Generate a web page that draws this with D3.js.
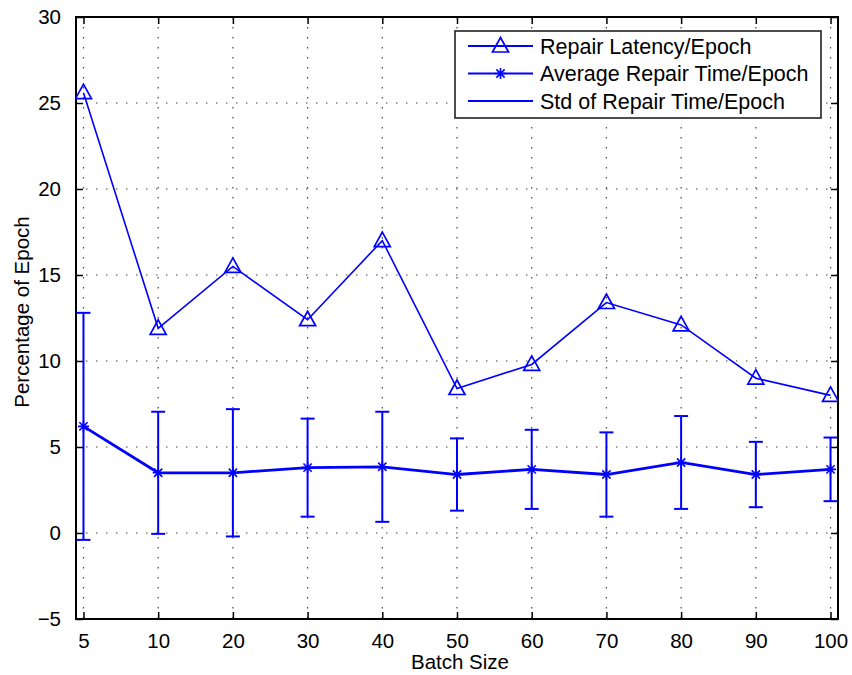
<!DOCTYPE html>
<html>

<head>
  <title>Repair latency vs batch size</title>
  <style>
    body { margin: 0; background: #fff; }
    text { font-family: "Liberation Sans", Arial, Helvetica, sans-serif; fill: #000; }
  </style>
</head>

<body>

  <svg id="main" width="852" height="675"></svg>

  <script src="https://cdn.jsdelivr.net/npm/d3@7"></script>
  <script>

    // data
    const batchSizes = ['5', '10', '20', '30', '40', '50', '60', '70', '80', '90', '100']
    const latency = [25.6, 11.9, 15.5, 12.4, 17.0, 8.4, 9.8, 13.4, 12.1, 9.0, 8.0]
    const avgRepair = [6.2, 3.5, 3.5, 3.8, 3.85, 3.4, 3.7, 3.4, 4.1, 3.4, 3.7]
    const stdRepair = [6.6, 3.55, 3.7, 2.85, 3.2, 2.1, 2.3, 2.45, 2.7, 1.9, 1.85]
    const yTicks = [-5, 0, 5, 10, 15, 20, 25, 30]
    const legendLabels = ['Repair Latency/Epoch', 'Average Repair Time/Epoch', 'Std of Repair Time/Epoch']

    const svg = d3.select('#main')
    const margin = { top: 17, right: 14, bottom: 56, left: 76 }
    const width = +svg.attr('width')
    const height = +svg.attr('height')
    const innerWidth = width - margin.left - margin.right
    const innerHeight = height - margin.top - margin.bottom
    const blue = '#0000ff'

    const points = batchSizes.map((name, i) => ({
      idx: i + 1,
      name,
      latency: latency[i],
      avg: avgRepair[i],
      std: stdRepair[i]
    }))

    const chart = svg.append('g')
      .attr('transform', `translate(${margin.left},${margin.top})`)

    const xScale = d3.scaleLinear()
      .domain([0.9, 11.1])
      .range([0, innerWidth])

    const yScale = d3.scaleLinear()
      .domain([-5, 30])
      .range([innerHeight, 0])

    chart.append('clipPath').attr('id', 'plotclip')
      .append('rect')
      .attr('width', innerWidth)
      .attr('height', innerHeight)

    // dotted grid
    const grid = chart.append('g')
      .attr('stroke', '#444')
      .attr('stroke-width', 1.2)
      .attr('stroke-dasharray', '1.5,8.5')

    grid.selectAll('.vgrid').data(points).join('line')
      .attr('x1', d => xScale(d.idx)).attr('x2', d => xScale(d.idx))
      .attr('y1', 0).attr('y2', innerHeight)

    grid.selectAll('.hgrid').data(yTicks.slice(1, -1)).join('line')
      .attr('x1', 0).attr('x2', innerWidth)
      .attr('y1', d => yScale(d)).attr('y2', d => yScale(d))

    // axes with inward ticks on all four sides
    const tickLen = 7
    const xAxis = d3.axisBottom(xScale)
      .tickValues(points.map(d => d.idx))
      .tickFormat((d, i) => batchSizes[i])
      .tickSizeInner(-tickLen).tickSizeOuter(0).tickPadding(tickLen + 7)

    const yAxis = d3.axisLeft(yScale)
      .tickValues(yTicks)
      .tickFormat(d => d < 0 ? '\u2212' + Math.abs(d) : d)
      .tickSizeInner(-tickLen).tickSizeOuter(0).tickPadding(tickLen + 8)

    chart.append('g').attr('class', 'axis')
      .attr('transform', `translate(0,${innerHeight})`)
      .call(xAxis)

    chart.append('g').attr('class', 'axis')
      .call(yAxis)

    chart.append('g').attr('class', 'axis mirror')
      .call(d3.axisTop(xScale).tickValues(points.map(d => d.idx))
        .tickSizeInner(-tickLen).tickSizeOuter(0))

    chart.append('g').attr('class', 'axis mirror')
      .attr('transform', `translate(${innerWidth},0)`)
      .call(d3.axisRight(yScale).tickValues(yTicks)
        .tickSizeInner(-tickLen).tickSizeOuter(0))

    chart.selectAll('.mirror .tick text').remove()
    chart.selectAll('.axis .domain').remove()
    chart.selectAll('.axis .tick line').attr('stroke', '#000').attr('stroke-width', 1.5)
    chart.selectAll('.axis .tick text')
      .attr('font-size', '20.5px')
      .attr('fill', '#000')

    chart.append('rect')
      .attr('width', innerWidth)
      .attr('height', innerHeight)
      .attr('fill', 'none')
      .attr('stroke', '#000')
      .attr('stroke-width', 2)

    const plot = chart.append('g').attr('clip-path', 'url(#plotclip)')

    // error bars
    const capHalf = 7
    const bars = plot.append('g')
      .attr('stroke', blue)
      .attr('stroke-width', 2)

    bars.selectAll('.ebar').data(points).join('line')
      .attr('x1', d => xScale(d.idx)).attr('x2', d => xScale(d.idx))
      .attr('y1', d => yScale(d.avg - d.std)).attr('y2', d => yScale(d.avg + d.std))

    bars.selectAll('.ecapTop').data(points).join('line')
      .attr('x1', d => xScale(d.idx) - capHalf).attr('x2', d => xScale(d.idx) + capHalf)
      .attr('y1', d => yScale(d.avg + d.std)).attr('y2', d => yScale(d.avg + d.std))

    bars.selectAll('.ecapBot').data(points).join('line')
      .attr('x1', d => xScale(d.idx) - capHalf).attr('x2', d => xScale(d.idx) + capHalf)
      .attr('y1', d => yScale(d.avg - d.std)).attr('y2', d => yScale(d.avg - d.std))

    // lines
    const latencyLine = d3.line().x(d => xScale(d.idx)).y(d => yScale(d.latency))
    const avgLine = d3.line().x(d => xScale(d.idx)).y(d => yScale(d.avg))

    plot.append('path').datum(points)
      .attr('fill', 'none').attr('stroke', blue).attr('stroke-width', 1.6)
      .attr('d', latencyLine)

    plot.append('path').datum(points)
      .attr('fill', 'none').attr('stroke', blue).attr('stroke-width', 2.8)
      .attr('d', avgLine)

    function triangle(g, cx, cy) {
      g.append('path')
        .attr('d', `M${cx},${cy - 8.5} L${cx + 8},${cy + 6} L${cx - 8},${cy + 6} Z`)
        .attr('fill', 'none').attr('stroke', blue).attr('stroke-width', 1.7)
    }

    function star(g, cx, cy) {
      const r = 5.5
      g.append('path')
        .attr('d', `M${cx - r},${cy} H${cx + r} M${cx},${cy - r} V${cy + r}` +
          `M${cx - r * 0.75},${cy - r * 0.75} L${cx + r * 0.75},${cy + r * 0.75}` +
          `M${cx - r * 0.75},${cy + r * 0.75} L${cx + r * 0.75},${cy - r * 0.75}`)
        .attr('fill', 'none').attr('stroke', blue).attr('stroke-width', 1.6)
    }

    const markers = plot.append('g')
    points.forEach(d => {
      triangle(markers, xScale(d.idx), yScale(d.latency))
      star(markers, xScale(d.idx), yScale(d.avg))
    })

    // axis titles
    chart.append('text')
      .text('Batch Size')
      .attr('x', innerWidth / 2 + 3)
      .attr('y', innerHeight + 50)
      .attr('text-anchor', 'middle')
      .attr('font-size', '20.5px')

    chart.append('text')
      .text('Percentage of Epoch')
      .attr('transform', `translate(${-47},${innerHeight / 2 - 6}) rotate(-90)`)
      .attr('text-anchor', 'middle')
      .attr('font-size', '20.5px')

    // legend
    const legend = svg.append('g').attr('transform', 'translate(455,31)')
    legend.append('rect')
      .attr('width', 366).attr('height', 87)
      .attr('fill', '#fff').attr('stroke', '#222').attr('stroke-width', 1.6)

    legendLabels.forEach((label, i) => {
      const cy = 15 + i * 27.5
      const row = legend.append('g')
      row.append('line')
        .attr('x1', 13).attr('x2', 78).attr('y1', cy).attr('y2', cy)
        .attr('stroke', blue).attr('stroke-width', i === 1 ? 2.2 : 1.8)
      if (i === 0) triangle(row, 45.5, cy)
      if (i === 1) star(row, 45.5, cy)
      row.append('text')
        .text(label)
        .attr('x', 85).attr('y', cy + 7.5)
        .attr('font-size', '21.5px')
    })

  </script>
</body>

</html>
